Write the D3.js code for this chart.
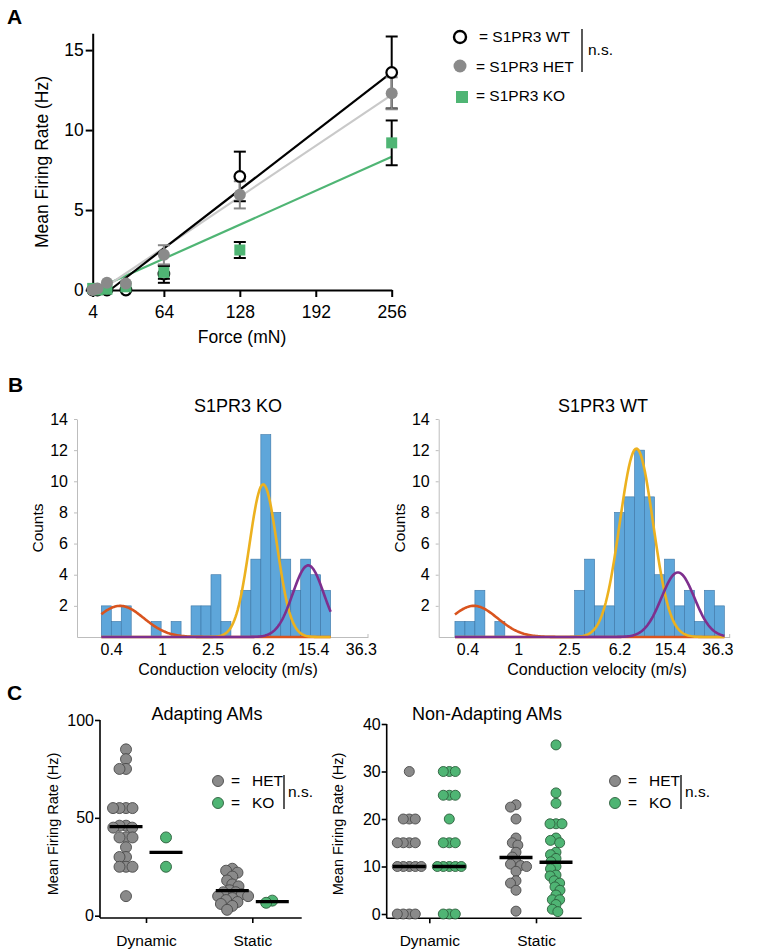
<!DOCTYPE html>
<html>
<head>
<meta charset="utf-8">
<script src="https://cdn.jsdelivr.net/npm/d3@7"></script>
<style>
  body { margin: 0; background: #fff; }
  svg { font-family: "Liberation Sans", Arial, Helvetica, sans-serif; }
</style>
</head>
<body>
<svg id="fig" width="774" height="952"></svg>
<script>
// ---------- panel A : firing rate vs force
var forces   = [4, 8, 16, 32, 64, 128, 256];
var wtMean   = [0, 0, 0, 0, 1.0, 7.1, 13.6];
var wtErr    = [0, 0, 0, 0, 0.55, 1.55, 2.25];
var hetMean  = [0, 0.1, 0.45, 0.4, 2.2, 5.95, 12.3];
var hetErr   = [0, 0, 0, 0, 0.6, 0.85, 1.0];
var koMean   = [0.1, 0, 0.05, 0.2, 1.1, 2.5, 9.2];
var koErr    = [0, 0, 0, 0, 0.4, 0.5, 1.4];
// linear fits: [force where fit crosses 0, slope Hz/mN]
var wtFit  = [18.6, 0.0573];
var hetFit = [11, 0.0498];
var koFit  = [5, 0.0332];
var forceTicks = [4, 64, 128, 192, 256];
var rateTicksA = [0, 5, 10, 15];

// ---------- panel B : conduction velocity histograms
var cvTicks  = [0.4, 1, 2.5, 6.2, 15.4, 36.3];
var countTicks = [2, 4, 6, 8, 10, 12, 14];
var koCounts = [2, 1, 2, 0, 0, 1, 0, 1, 0, 2, 2, 4, 1, 0, 3, 5, 13, 8, 5, 3, 5, 4, 3];
var wtCounts = [1, 1, 3, 0, 1, 0, 0, 0, 0, 0, 0, 0, 3, 5, 2, 2, 8, 9, 12, 9, 4, 5, 2, 3, 1, 3, 2];
var koBinStart = 0.335, wtBinStart = 0.319;  // m/s, left edge of first bin
var binStep = 0.18;                           // bin width in ln(m/s)
// gaussian fits: [peak count, centre m/s, sigma in ln units]
var koFits = [[2.0, 0.47, 0.428], [9.8, 6.23, 0.248], [4.6, 14.05, 0.28]];
var wtFits = [[2.0, 0.449, 0.425], [12.1, 8.42, 0.30], [4.15, 17.8, 0.298]];
var fitColors = ["#d9541e", "#ecb11f", "#7e2f8e"];

// ---------- panel C : adapting / non-adapting AMs
var groups = ["Dynamic", "Static"];
var adHetDyn = [85, 80, 75, 75, 55, 55, 55, 55, 46, 46, 45, 45, 40, 40, 40, 35, 30, 30, 25, 25, 25, 10];
var adKoDyn  = [40, 25];
var adHetSta = [24, 23, 22, 20, 18, 16, 15, 13, 12, 12, 11, 10, 10, 9, 8, 7, 6, 5, 3];
var adKoSta  = [6.6, 7.7];
var adLines  = [45.5, 32.4, 12.8, 7.2];   // het dyn, ko dyn, het sta, ko sta
var naHetDyn = [30, 20, 20, 20, 15, 15, 15, 15, 10, 10, 10, 10, 10, 0, 0, 0, 0];
var naKoDyn  = [30, 30, 30, 25, 25, 25, 20, 15, 15, 15, 10, 10, 10, 10, 10, 0, 0, 0];
var naHetSta = [23, 22.5, 20, 16, 15, 14.5, 13, 12, 11, 10.5, 10.2, 10, 9, 7, 6.5, 5, 0.6];
var naKoSta  = [35.6, 25.5, 23.3, 19, 19, 19, 16, 15.5, 15, 13, 12.5, 11.7, 11, 10, 9.5, 8.2, 8, 7, 6.5, 5.7, 5, 4, 3, 3, 2, 1, 0.5];
var naLines  = [10, 10, 11.9, 10.9];
var adTicks = [0, 50, 100];
var naTicks = [0, 10, 20, 30, 40];

var grayFill = "#8a8a8a", grayLine = "#c9c9c9", greenFill = "#4fb574";

var svg = d3.select("#fig");
svg.append("rect").attr("width", 774).attr("height", 952).attr("fill", "#fff");

function panelLabel(t, x, y) {
    svg.append("text").attr("x", x).attr("y", y)
        .style("font-size", "21px").style("font-weight", "bold").text(t);
}

// ======================= A =======================
panelLabel("A", 7, 24);
var xA = d3.scaleLinear().domain([4, 256]).range([92.7, 391.7]);
var yA = d3.scaleLinear().domain([0, 16.05]).range([290, 33.3]);
var gA = svg.append("g");

var axA = gA.append("g").attr("transform", "translate(0,290)")
    .call(d3.axisBottom(xA).tickValues(forceTicks).tickSize(7).tickSizeOuter(0).tickPadding(9));
var ayA = gA.append("g").attr("transform", "translate(92.7,0)")
    .call(d3.axisLeft(yA).tickValues(rateTicksA).tickSize(7).tickSizeOuter(0).tickPadding(2));
[axA, ayA].forEach(function(a) {
    a.selectAll("path,line").attr("stroke", "#000").attr("stroke-width", 2);
    a.selectAll("text").style("font-size", "17.5px").attr("fill", "#000");
});
gA.append("text").attr("x", 242).attr("y", 343).attr("text-anchor", "middle")
    .style("font-size", "17.5px").text("Force (mN)");
gA.append("text").attr("transform", "translate(48,162) rotate(-90)").attr("text-anchor", "middle")
    .style("font-size", "17.5px").text("Mean Firing Rate (Hz)");

// fit lines
[[koFit, "#4fb574"], [hetFit, grayLine], [wtFit, "#000"]].forEach(function(f) {
    var p = f[0];
    gA.append("line")
        .attr("x1", xA(p[0])).attr("y1", yA(0))
        .attr("x2", xA(256)).attr("y2", yA(p[1] * (256 - p[0])))
        .attr("stroke", f[1]).attr("stroke-width", 2.2);
});

function errBars(means, errs, color) {
    forces.forEach(function(f, i) {
        if (!errs[i]) return;
        var x = xA(f), lo = yA(means[i] - errs[i]), hi = yA(means[i] + errs[i]);
        gA.append("line").attr("x1", x).attr("x2", x).attr("y1", lo).attr("y2", hi)
            .attr("stroke", color).attr("stroke-width", 2);
        [lo, hi].forEach(function(y) {
            gA.append("line").attr("x1", x - 6).attr("x2", x + 6).attr("y1", y).attr("y2", y)
                .attr("stroke", color).attr("stroke-width", 2);
        });
    });
}
errBars(wtMean, wtErr, "#000");
errBars(koMean, koErr, "#000");
errBars(hetMean, hetErr, "#888");

// WT drawn first, KO and HET symbols sit on top of it
gA.selectAll(".wt").data(forces).enter().append("circle")
    .attr("cx", function(d) { return xA(d); })
    .attr("cy", function(d, i) { return yA(wtMean[i]); })
    .attr("r", 5.3).attr("fill", "#fff").attr("stroke", "#000").attr("stroke-width", 2.2);
gA.selectAll(".ko").data(forces).enter().append("rect")
    .attr("x", function(d) { return xA(d) - 5.5; })
    .attr("y", function(d, i) { return yA(koMean[i]) - 5.5; })
    .attr("width", 11).attr("height", 11).attr("fill", greenFill);
gA.selectAll(".het").data(forces).enter().append("circle")
    .attr("cx", function(d) { return xA(d); })
    .attr("cy", function(d, i) { return yA(hetMean[i]); })
    .attr("r", 6).attr("fill", grayFill);

// legend A
var lgA = svg.append("g").style("font-size", "15.5px");
lgA.append("circle").attr("cx", 460).attr("cy", 37).attr("r", 6).attr("fill", "#fff")
    .attr("stroke", "#000").attr("stroke-width", 2.4);
lgA.append("text").attr("x", 479).attr("y", 42).text("= S1PR3 WT");
lgA.append("circle").attr("cx", 460).attr("cy", 66).attr("r", 6.5).attr("fill", grayFill);
lgA.append("text").attr("x", 476).attr("y", 72).text("= S1PR3 HET");
lgA.append("rect").attr("x", 456).attr("y", 91).attr("width", 12).attr("height", 12).attr("fill", greenFill);
lgA.append("text").attr("x", 476).attr("y", 101).text("= S1PR3 KO");
lgA.append("line").attr("x1", 582).attr("x2", 582).attr("y1", 29).attr("y2", 72)
    .attr("stroke", "#000").attr("stroke-width", 1.3);
lgA.append("text").attr("x", 588).attr("y", 55).text("n.s.");

// ======================= B =======================
panelLabel("B", 8, 392);

function histPanel(opts) {
    var g = svg.append("g");
    var x = d3.scaleLog().domain(opts.dom).range([opts.x0, opts.x0 + 291]);
    var y = d3.scaleLinear().domain([0, 14]).range([637, 419]);

    var ay = g.append("g").attr("transform", "translate(" + opts.x0 + ",0)")
        .call(d3.axisLeft(y).tickValues(countTicks).tickSize(3).tickSizeOuter(0).tickPadding(6));
    var ax = g.append("g").attr("transform", "translate(0,637)")
        .call(d3.axisBottom(x).tickValues(cvTicks).tickFormat(function(d) { return d; })
            .tickSize(0).tickSizeOuter(0).tickPadding(7));
    [ay, ax].forEach(function(a) {
        a.selectAll("path,line").attr("stroke", "#bdbdbd").attr("stroke-width", 1);
        a.selectAll("text").style("font-size", "16px").attr("fill", "#000");
    });
    ax.append("line").attr("x1", opts.x0 + 291).attr("x2", opts.x0 + 291).attr("y1", 0).attr("y2", -3)
        .attr("stroke", "#bdbdbd");

    g.selectAll(".bar").data(opts.counts).enter().append("rect")
        .attr("x", function(d, i) { return x(opts.start * Math.exp(i * binStep)); })
        .attr("width", function(d, i) {
            return x(opts.start * Math.exp((i + 1) * binStep)) - x(opts.start * Math.exp(i * binStep));
        })
        .attr("y", function(d) { return y(d); })
        .attr("height", function(d) { return y(0) - y(d); })
        .attr("fill", "#5ea6da").attr("stroke", "#3c76a6").attr("stroke-width", 0.6)
        .style("display", function(d) { return d ? null : "none"; });

    var lnA = Math.log(opts.start), lnB = lnA + binStep * opts.counts.length;
    var samples = d3.range(0, 201).map(function(k) { return Math.exp(lnA + (lnB - lnA) * k / 200); });
    opts.fits.forEach(function(f, j) {
        var line = d3.line()
            .x(function(v) { return x(v); })
            .y(function(v) {
                var z = (Math.log(v) - Math.log(f[1])) / f[2];
                return y(f[0] * Math.exp(-0.5 * z * z));
            });
        g.append("path").attr("d", line(samples)).attr("fill", "none")
            .attr("stroke", fitColors[j]).attr("stroke-width", 2.6);
    });

    g.append("text").attr("x", opts.titleX).attr("y", 412).attr("text-anchor", "middle")
        .style("font-size", "18px").text(opts.title);
    g.append("text").attr("x", opts.labelX).attr("y", 675).attr("text-anchor", "middle")
        .style("font-size", "16px").text("Conduction velocity (m/s)");
    g.append("text").attr("transform", "translate(" + (opts.x0 - 34) + ",528) rotate(-90)")
        .attr("text-anchor", "middle").style("font-size", "15.5px").text("Counts");
}

histPanel({ x0: 77, dom: [0.216, 41.3], counts: koCounts, start: koBinStart, fits: koFits,
    title: "S1PR3 KO", titleX: 238, labelX: 228 });
histPanel({ x0: 438.7, dom: [0.238, 45.3], counts: wtCounts, start: wtBinStart, fits: wtFits,
    title: "S1PR3 WT", titleX: 603, labelX: 597 });

// ======================= C =======================
panelLabel("C", 7, 700);

function swarm(vals, y, gap) {
    var placed = [];
    vals.slice().sort(d3.descending).forEach(function(v) {
        var py = y(v), blocked = [];
        placed.forEach(function(p) {
            var dy = Math.abs(p.y - py);
            if (dy < gap) {
                var dx = Math.sqrt(gap * gap - dy * dy);
                blocked.push([p.x - dx, p.x + dx]);
            }
        });
        var cands = [0];
        blocked.forEach(function(b) { cands.push(b[0], b[1]); });
        cands.sort(function(a, b) { return Math.abs(a) - Math.abs(b) || a - b; });
        var ox = cands.find(function(c) {
            return blocked.every(function(b) { return c <= b[0] + 1e-6 || c >= b[1] - 1e-6; });
        });
        placed.push({ x: ox, y: py });
    });
    return placed;
}

function dotPanel(opts) {
    var g = svg.append("g");
    var y = d3.scaleLinear().domain([0, opts.max]).range([opts.y0, opts.yTop]);
    var x = d3.scalePoint().domain(groups).range(opts.xr);

    g.append("line").attr("x1", opts.ax).attr("x2", opts.ax).attr("y1", opts.yTop).attr("y2", opts.base)
        .attr("stroke", "#000").attr("stroke-width", 1.6);
    g.append("line").attr("x1", opts.ax).attr("x2", opts.axEnd).attr("y1", opts.base).attr("y2", opts.base)
        .attr("stroke", "#000").attr("stroke-width", 1.6);

    var ay = g.append("g").attr("transform", "translate(" + opts.ax + ",0)")
        .call(d3.axisLeft(y).tickValues(opts.ticks).tickSize(5).tickSizeOuter(0).tickPadding(1));
    ay.select(".domain").remove();
    var ax = g.append("g").attr("transform", "translate(0," + opts.base + ")")
        .call(d3.axisBottom(x).tickSize(5).tickSizeOuter(0).tickPadding(12));
    ax.select(".domain").remove();
    [ay, ax].forEach(function(a) {
        a.selectAll("line").attr("stroke", "#000").attr("stroke-width", 1.6);
    });
    ay.selectAll("text").style("font-size", "16px").attr("fill", "#000");
    ax.selectAll("text").style("font-size", "15.5px").attr("fill", "#000");

    var sets = [[opts.data[0], "Dynamic", -20, grayFill, "#4a4a4a"],
                [opts.data[1], "Dynamic", 20, greenFill, "#2c5f3c"],
                [opts.data[2], "Static", -20, grayFill, "#4a4a4a"],
                [opts.data[3], "Static", 20, greenFill, "#2c5f3c"]];
    sets.forEach(function(s, k) {
        var cx = x(s[1]) + s[2];
        g.selectAll(null).data(swarm(s[0], y, opts.gap)).enter().append("circle")
            .attr("cx", function(p) { return cx + p.x; })
            .attr("cy", function(p) { return p.y; })
            .attr("r", opts.r).attr("fill", s[3]).attr("stroke", s[4]).attr("stroke-width", 0.9);
    });
    sets.forEach(function(s, k) {
        var cx = x(s[1]) + s[2];
        g.append("line").attr("x1", cx - 16.5).attr("x2", cx + 16.5)
            .attr("y1", y(opts.lines[k])).attr("y2", y(opts.lines[k]))
            .attr("stroke", "#000").attr("stroke-width", 3.3);
    });

    g.append("text").attr("x", opts.titleX).attr("y", 720).attr("text-anchor", "middle")
        .style("font-size", "18px").text(opts.title);
    g.append("text").attr("transform", "translate(" + opts.labX + ",824) rotate(-90)")
        .attr("text-anchor", "middle").style("font-size", "14.5px").text("Mean Firing Rate (Hz)");

    // legend
    var lg = g.append("g").style("font-size", "15.5px");
    lg.append("circle").attr("cx", opts.lgX).attr("cy", 781).attr("r", 5.5)
        .attr("fill", grayFill).attr("stroke", "#4a4a4a").attr("stroke-width", 0.9);
    lg.append("circle").attr("cx", opts.lgX).attr("cy", 803).attr("r", 5.5)
        .attr("fill", greenFill).attr("stroke", "#2c5f3c").attr("stroke-width", 0.9);
    lg.append("text").attr("x", opts.lgX + 13).attr("y", 786).text("=");
    lg.append("text").attr("x", opts.lgX + 13).attr("y", 808).text("=");
    lg.append("text").attr("x", opts.lgX + 34).attr("y", 786).text("HET");
    lg.append("text").attr("x", opts.lgX + 34).attr("y", 808).text("KO");
    lg.append("line").attr("x1", opts.lgX + 66).attr("x2", opts.lgX + 66).attr("y1", 775).attr("y2", 809)
        .attr("stroke", "#000").attr("stroke-width", 1.3);
    lg.append("text").attr("x", opts.lgX + 70).attr("y", 797).text("n.s.");
}

dotPanel({ max: 100, y0: 915.7, yTop: 720, base: 918, ax: 100, axEnd: 301.7, xr: [146, 252.3],
    ticks: adTicks, data: [adHetDyn, adKoDyn, adHetSta, adKoSta], lines: adLines,
    r: 5.5, gap: 6.5, title: "Adapting AMs", titleX: 207, labX: 58, lgX: 218 });
dotPanel({ max: 40, y0: 914, yTop: 724, base: 918.3, ax: 386.7, axEnd: 581.7, xr: [429.3, 536],
    ticks: naTicks, data: [naHetDyn, naKoDyn, naHetSta, naKoSta], lines: naLines,
    r: 5, gap: 6, title: "Non-Adapting AMs", titleX: 487, labX: 343, lgX: 615 });
</script>
</body>
</html>
